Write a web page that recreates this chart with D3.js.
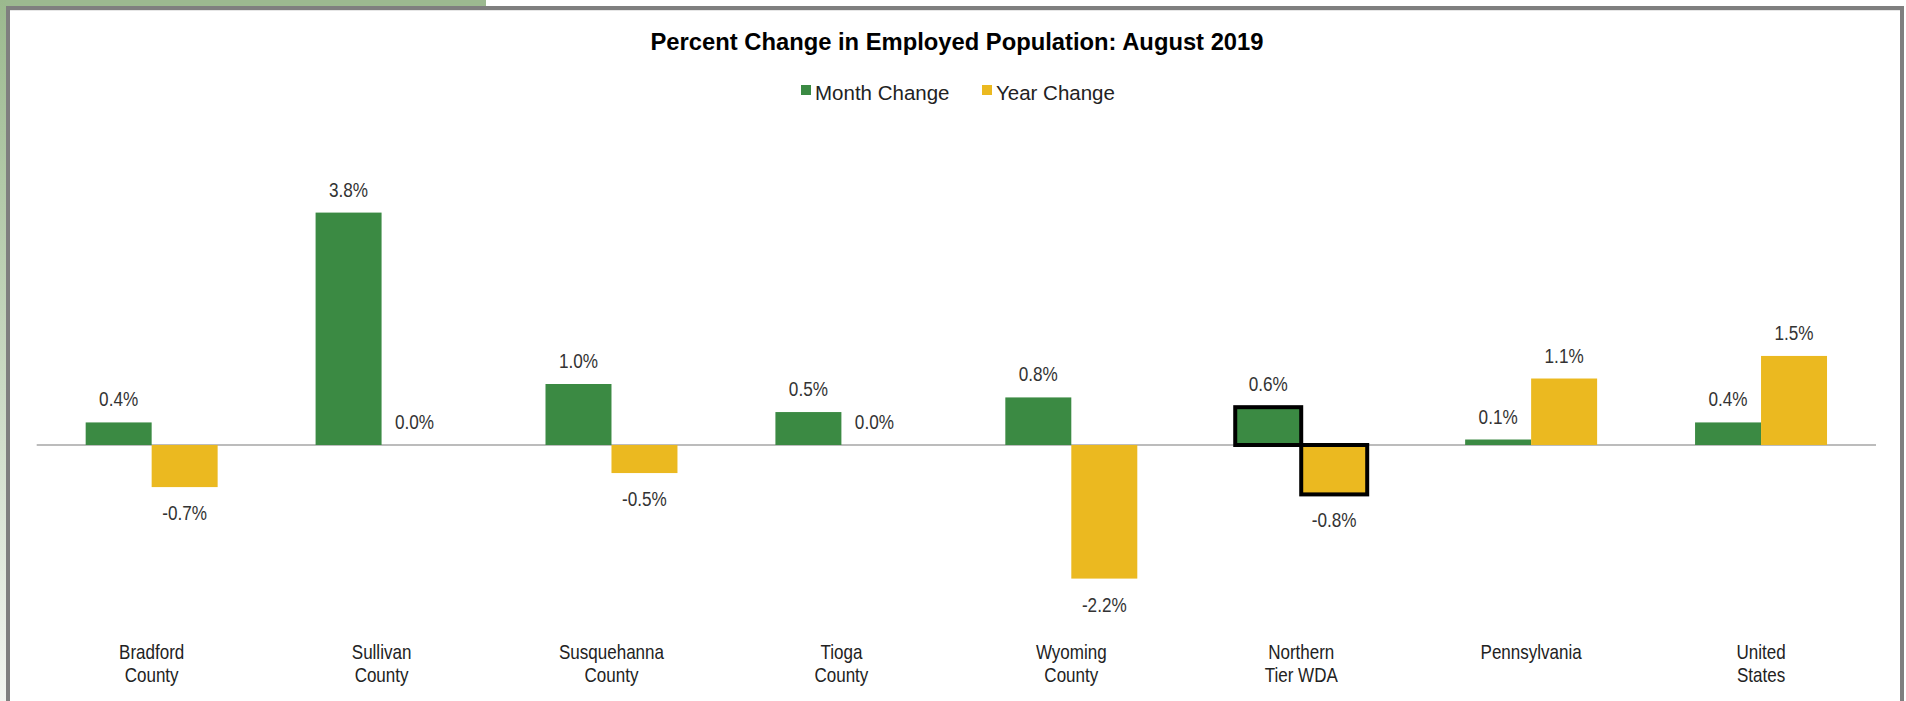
<!DOCTYPE html>
<html>
<head>
<meta charset="utf-8">
<style>
  html, body { margin: 0; padding: 0; background: #fff; }
  svg { display: block; }
</style>
</head>
<body>
<script src="https://d3js.org/d3.v7.min.js"></script>
<script>
    // data
    const categories = [
      ['Bradford', 'County'],
      ['Sullivan', 'County'],
      ['Susquehanna', 'County'],
      ['Tioga', 'County'],
      ['Wyoming', 'County'],
      ['Northern', 'Tier WDA'],
      ['Pennsylvania'],
      ['United', 'States']
    ]
    const seriesNames = ['Month Change', 'Year Change']
    const monthChange = [0.37, 3.81, 1.0, 0.54, 0.78, 0.62, 0.09, 0.37]
    const yearChange = [-0.69, 0.0, -0.46, 0.0, -2.19, -0.81, 1.09, 1.46]
    const highlighted = 'Northern Tier WDA'

    const W = 1906, H = 701
    const svg = d3.select('body')
                  .append('svg')
                  .attr('width', W)
                  .attr('height', H)

    // frame like the screenshot: green strip + gray border
    const defs = svg.append('defs')
    const grad = defs.append('linearGradient')
                     .attr('id', 'leftStrip')
                     .attr('x1', 0).attr('y1', 0).attr('x2', 0).attr('y2', 1)
    grad.append('stop').attr('offset', '0%').attr('stop-color', '#9bb98e')
    grad.append('stop').attr('offset', '100%').attr('stop-color', '#f2f5f0')

    svg.append('rect').attr('x', 0).attr('y', 0).attr('width', 486).attr('height', 6).attr('fill', '#9cb990')
    svg.append('rect').attr('x', 0).attr('y', 0).attr('width', 6).attr('height', H).attr('fill', 'url(#leftStrip)')
    svg.append('rect').attr('x', 6).attr('y', 6).attr('width', W - 12).attr('height', 4).attr('fill', '#7f7f7f')
    svg.append('rect').attr('x', 6).attr('y', 6).attr('width', 4).attr('height', H).attr('fill', '#7f7f7f')
    svg.append('rect').attr('x', 1900).attr('y', 6).attr('width', 4).attr('height', H).attr('fill', '#7f7f7f')
    svg.append('rect').attr('x', 10).attr('y', 10).attr('width', 1890).attr('height', 1).attr('fill', '#e6e6e6')

    // scales
    const keys = categories.map(c => c.join(' '))
    const x0 = d3.scaleBand()
                 .domain(keys)
                 .range([36.7, 1876])
    const barW = x0.bandwidth() * 0.287
    const x1 = d3.scaleBand()
                 .domain(seriesNames)
                 .range([x0.bandwidth() / 2 - barW, x0.bandwidth() / 2 + barW])
    const yScale = d3.scaleLinear()
                     .domain([-2.5, 4])
                     .range([445 + 2.5 * 61, 445 - 4 * 61])
    const colorScale = d3.scaleOrdinal()
                         .domain(seriesNames)
                         .range(['#3b8a43', '#ebb920'])

    const rows = keys.map((k, i) => ({
      key: k,
      values: [
        {name: seriesNames[0], v: monthChange[i]},
        {name: seriesNames[1], v: yearChange[i]}
      ]
    }))

    // title
    svg.append('text')
       .attr('x', 957)
       .attr('y', 50)
       .attr('text-anchor', 'middle')
       .attr('font-family', '"Liberation Sans", Arial, sans-serif')
       .attr('font-weight', 'bold')
       .attr('font-size', 23)
       .attr('textLength', 613)
       .attr('lengthAdjust', 'spacingAndGlyphs')
       .attr('fill', '#000')
       .text('Percent Change in Employed Population: August 2019')

    // legend
    const legendX = [801, 982]
    const legend = svg.selectAll('.legend')
                      .data(seriesNames)
                      .join('g')
                      .attr('transform', (d, i) => `translate(${legendX[i]},0)`)
    legend.append('rect')
          .attr('x', 0).attr('y', 85)
          .attr('width', 10).attr('height', 10)
          .attr('fill', d => colorScale(d))
    legend.append('text')
          .attr('x', 14).attr('y', 100)
          .attr('font-family', '"Liberation Sans", Arial, sans-serif')
          .attr('font-size', 20.5)
          .attr('fill', '#222')
          .text(d => d)

    // zero line
    svg.append('line')
       .attr('x1', x0.range()[0]).attr('x2', x0.range()[1])
       .attr('y1', yScale(0)).attr('y2', yScale(0))
       .attr('stroke', '#a6a6a6')
       .attr('stroke-width', 1.5)

    const groups = svg.selectAll('.grp')
                      .data(rows)
                      .join('g')
                      .attr('transform', d => `translate(${x0(d.key)},0)`)

    groups.selectAll('rect')
          .data(d => d.values.map(v => Object.assign({key: d.key}, v)))
          .join('rect')
          .attr('x', d => x1(d.name))
          .attr('width', x1.bandwidth())
          .attr('y', d => yScale(Math.max(0, d.v)))
          .attr('height', d => Math.abs(yScale(d.v) - yScale(0)))
          .attr('fill', d => colorScale(d.name))
          .attr('stroke', d => d.key === highlighted ? '#000' : 'none')
          .attr('stroke-width', 4)

    // value labels
    groups.selectAll('.val')
          .data(d => d.values)
          .join('text')
          .attr('transform', d => {
            const tx = x1(d.name) + x1.bandwidth() / 2
            const ty = d.v < 0 ? yScale(d.v) + 33 : yScale(d.v) - 16
            return `translate(${tx},${ty}) scale(0.88,1)`
          })
          .attr('text-anchor', 'middle')
          .attr('font-family', '"Liberation Sans", Arial, sans-serif')
          .attr('font-size', 19.5)
          .attr('fill', '#333')
          .text(d => d.v.toFixed(1) + '%')

    // category labels
    categories.forEach((lines, i) => {
      const cx = x0(keys[i]) + x0.bandwidth() / 2
      lines.forEach((line, j) => {
        svg.append('text')
           .attr('transform', `translate(${cx},${659 + j * 23}) scale(0.83,1)`)
           .attr('text-anchor', 'middle')
           .attr('font-family', '"Liberation Sans", Arial, sans-serif')
           .attr('font-size', 20.5)
           .attr('fill', '#222')
           .text(line)
      })
    })
</script>
</body>
</html>
